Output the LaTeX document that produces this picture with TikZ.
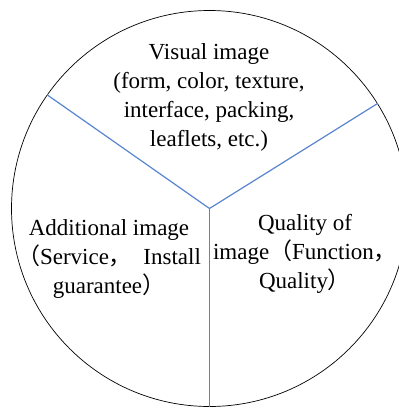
\documentclass[tikz,border=0pt]{standalone}
\usepackage{fontspec}
\setmainfont{Liberation Serif}
\newfontfamily\cjk{Noto Sans CJK SC}
\usetikzlibrary{positioning}

\definecolor{spokeblue}{RGB}{88,132,208}

\tikzset{
    spoke/.style={draw=spokeblue, line width=1.2pt},
    sectortext/.style={align=center, font=\fontsize{23}{29}\selectfont, inner sep=0pt}
}

\begin{document}
\begin{tikzpicture}[x=1pt, y=-1pt]
    \useasboundingbox (0,0) rectangle (399,410);

    % the whole circle
    \node[circle, draw=black, line width=0.7pt, minimum size=396pt, inner sep=0pt] (whole) at (209.5,208.5) {};
    \coordinate (hub) at (209.5,208.5);

    % three sectors
    \draw[spoke] (hub) -- (whole.145.6);
    \draw[spoke] (hub) -- (whole.32);
    \draw[spoke] (hub) -- (whole.270);

    % labels
    \node[sectortext] (visual) at (209,97) {Visual image\\(form, color, texture,\\interface, packing,\\leaflets, etc.)};
    \node[sectortext] (additional) at (109,259) {Additional image\\{\cjk （}Service{\cjk ，}\ \ Install\\guarantee{\cjk ）}};
    \node[sectortext] (quality) at (305,254) {Quality of\\image{\cjk （}Function{\cjk ，}\\Quality{\cjk ）}};
\end{tikzpicture}
\end{document}
